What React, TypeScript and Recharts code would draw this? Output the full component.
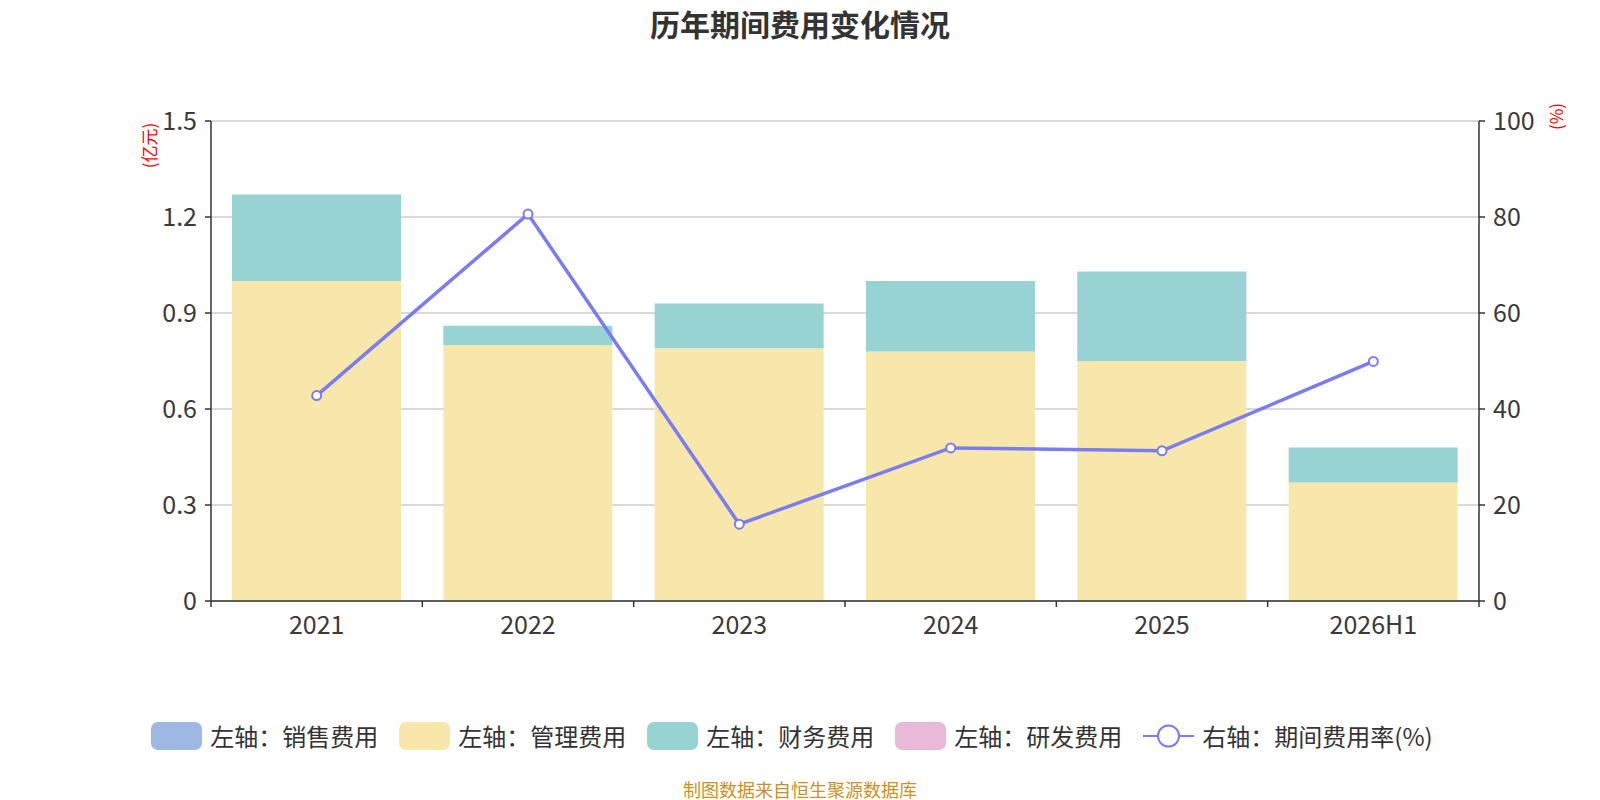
import { ComposedChart, Bar, Line, XAxis, YAxis, CartesianGrid } from 'recharts'

const years = ['2021', '2022', '2023', '2024', '2025', '2026H1']
const salesFee = [0, 0, 0, 0, 0, 0]
const adminFee = [1.0, 0.8, 0.79, 0.78, 0.75, 0.37]
const financeFee = [0.27, 0.06, 0.14, 0.22, 0.28, 0.11]
const rdFee = [0, 0, 0, 0, 0, 0]
const feeRate = [42.8, 80.6, 16.0, 31.9, 31.3, 49.9]

const leftTicks = [0, 0.3, 0.6, 0.9, 1.2, 1.5]
const rightTicks = [0, 20, 40, 60, 80, 100]

const FONT = '"Noto Sans CJK SC", "Noto Sans", sans-serif'
const W = 1600
const H = 800
const margin = { top: 121, right: 61, left: 151, bottom: 169 }
const Y_W = 60
const PLOT_W = W - margin.left - margin.right - Y_W * 2

const COLORS = {
  sales: '#9db8e3',
  admin: '#f8e7aa',
  finance: '#98d3d4',
  rd: '#e8b9d8',
  rate: '#7a7cf3',
}

const data = years.map((year, i) => ({
  year,
  sales: salesFee[i],
  admin: adminFee[i],
  finance: financeFee[i],
  rd: rdFee[i],
  rate: feeRate[i],
}))

// ticks sit on category boundaries, labels in the middle
const XTick = (props: any) => {
  const { x, y, payload, index } = props
  const band = PLOT_W / years.length
  const top = y - 8
  return (
    <g>
      <line x1={x - band / 2} x2={x - band / 2} y1={top} y2={top + 6} stroke="#333" strokeWidth={1.5} />
      {index === years.length - 1 && (
        <line x1={x + band / 2} x2={x + band / 2} y1={top} y2={top + 6} stroke="#333" strokeWidth={1.5} />
      )}
      <text x={x} y={y + 25} textAnchor="middle" fill="#3a3a3a" fontSize={25} fontFamily={FONT}>
        {payload.value}
      </text>
    </g>
  )
}

const legendItems = [
  { label: '左轴：销售费用', color: COLORS.sales, type: 'rect' },
  { label: '左轴：管理费用', color: COLORS.admin, type: 'rect' },
  { label: '左轴：财务费用', color: COLORS.finance, type: 'rect' },
  { label: '左轴：研发费用', color: COLORS.rd, type: 'rect' },
  { label: '右轴：期间费用率(%)', color: COLORS.rate, type: 'line' },
]

const unitStyle = {
  position: 'absolute' as const,
  width: 0,
  height: 0,
  display: 'flex',
  alignItems: 'center',
  justifyContent: 'center',
}

export default function App() {
  return (
    <div style={{ position: 'relative', width: W, height: H, fontFamily: FONT, background: '#fff' }}>
      <style>{'body{margin:0}'}</style>
      <div
        style={{
          position: 'absolute',
          top: 3,
          left: 0,
          width: W,
          textAlign: 'center',
          fontSize: 30,
          fontWeight: 'bold',
          color: '#333',
          lineHeight: '40px',
        }}
      >
        历年期间费用变化情况
      </div>

      <ComposedChart width={W} height={H} data={data} margin={margin}>
        <CartesianGrid vertical={false} stroke="#cccccc" strokeWidth={1.5} yAxisId="left" />
        <XAxis
          dataKey="year"
          tick={<XTick />}
          tickLine={false}
          axisLine={{ stroke: '#333', strokeWidth: 1.5 }}
          height={30}
          interval={0}
        />
        <YAxis
          yAxisId="left"
          domain={[0, 1.5]}
          ticks={leftTicks}
          width={Y_W}
          tickSize={6}
          tickMargin={8}
          axisLine={{ stroke: '#333', strokeWidth: 1.5 }}
          tickLine={{ stroke: '#333', strokeWidth: 1.5 }}
          tick={{ fill: '#3a3a3a', fontSize: 25, fontFamily: FONT }}
        />
        <YAxis
          yAxisId="right"
          orientation="right"
          domain={[0, 100]}
          ticks={rightTicks}
          width={Y_W}
          tickSize={6}
          tickMargin={8}
          axisLine={{ stroke: '#333', strokeWidth: 1.5 }}
          tickLine={{ stroke: '#333', strokeWidth: 1.5 }}
          tick={{ fill: '#3a3a3a', fontSize: 25, fontFamily: FONT, textAnchor: 'start' }}
        />
        <Bar yAxisId="left" dataKey="sales" stackId="fee" fill={COLORS.sales} barSize={169} isAnimationActive={false} />
        <Bar yAxisId="left" dataKey="admin" stackId="fee" fill={COLORS.admin} barSize={169} isAnimationActive={false} />
        <Bar yAxisId="left" dataKey="finance" stackId="fee" fill={COLORS.finance} barSize={169} isAnimationActive={false} />
        <Bar yAxisId="left" dataKey="rd" stackId="fee" fill={COLORS.rd} barSize={169} isAnimationActive={false} />
        <Line
          yAxisId="right"
          dataKey="rate"
          type="linear"
          stroke={COLORS.rate}
          strokeWidth={3.5}
          dot={{ r: 4.5, fill: '#fff', stroke: COLORS.rate, strokeWidth: 2 }}
          isAnimationActive={false}
        />
      </ComposedChart>

      <div style={{ ...unitStyle, left: 149, top: 145 }}>
        <span style={{ transform: 'rotate(-90deg)', whiteSpace: 'nowrap', color: 'red', fontSize: 17 }}>(亿元)</span>
      </div>
      <div style={{ ...unitStyle, left: 1556, top: 116 }}>
        <span style={{ transform: 'rotate(-90deg)', whiteSpace: 'nowrap', color: 'red', fontSize: 17 }}>(%)</span>
      </div>

      <div
        style={{
          position: 'absolute',
          top: 719,
          left: 0,
          width: 1584,
          display: 'flex',
          justifyContent: 'center',
          gap: 21,
          fontSize: 24,
          color: '#333',
          lineHeight: '34px',
        }}
      >
        {legendItems.map((item) => (
          <div key={item.label} style={{ display: 'flex', alignItems: 'center', gap: 8 }}>
            {item.type === 'rect' ? (
              <div style={{ width: 51, height: 28, borderRadius: 7, background: item.color }} />
            ) : (
              <svg width={51} height={28}>
                <line x1={0} x2={51} y1={14} y2={14} stroke={item.color} strokeWidth={2} />
                <circle cx={25.5} cy={14} r={10.5} fill="#fff" stroke={item.color} strokeWidth={2} />
              </svg>
            )}
            <span>{item.label}</span>
          </div>
        ))}
      </div>

      <div
        style={{
          position: 'absolute',
          top: 777,
          left: 0,
          width: W,
          textAlign: 'center',
          fontSize: 18,
          lineHeight: '24px',
          color: '#c8922a',
        }}
      >
        制图数据来自恒生聚源数据库
      </div>
    </div>
  )
}
